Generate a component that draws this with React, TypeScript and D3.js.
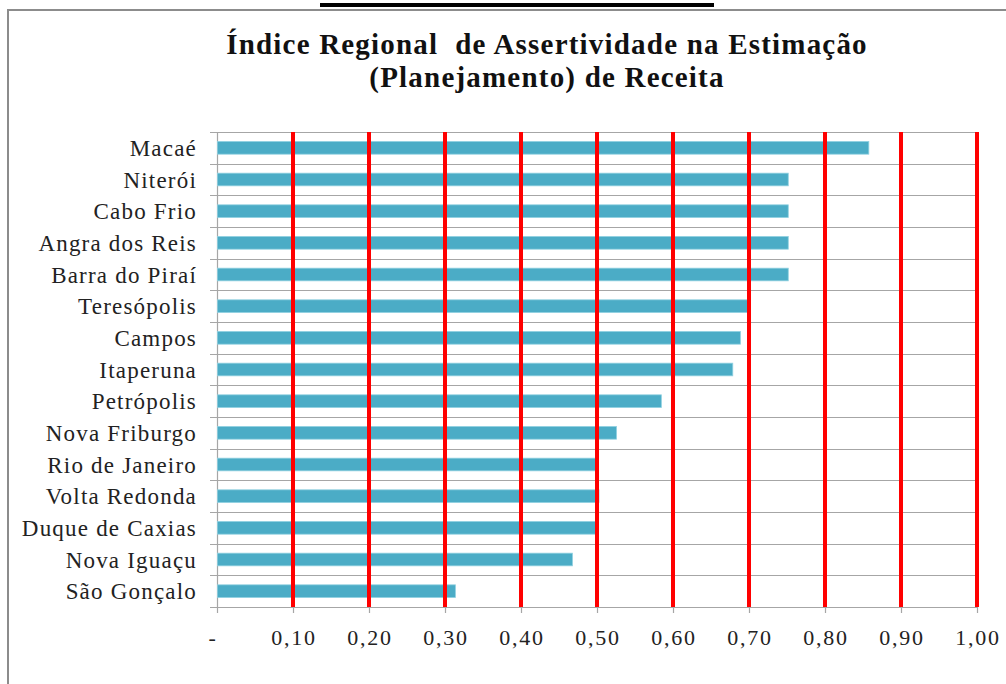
import React, { useEffect, useRef } from 'react';
import * as d3 from 'd3';

// dados
const cidades = [
  'Macaé', 'Niterói', 'Cabo Frio', 'Angra dos Reis', 'Barra do Piraí',
  'Teresópolis', 'Campos', 'Itaperuna', 'Petrópolis', 'Nova Friburgo',
  'Rio de Janeiro', 'Volta Redonda', 'Duque de Caxias', 'Nova Iguaçu', 'São Gonçalo',
];
const indices = [
  0.857, 0.751, 0.751, 0.751, 0.751,
  0.70, 0.688, 0.678, 0.584, 0.525,
  0.501, 0.502, 0.501, 0.467, 0.313,
];
const ticksX = [0, 0.1, 0.2, 0.3, 0.4, 0.5, 0.6, 0.7, 0.8, 0.9, 1.0];
const tituloLinhas = ['Índice Regional  de Assertividade na Estimação', '(Planejamento) de Receita'];

const W = 1006, H = 684;
const FONT = '"Liberation Serif", "Times New Roman", serif';

export default function App() {
  const ref = useRef<SVGSVGElement>(null);

  useEffect(() => {
    const svg = d3.select(ref.current);
    svg.selectAll('*').remove();

    const margin = { top: 132, right: 29, bottom: 77, left: 217 };
    const width = W - margin.left - margin.right;
    const height = H - margin.top - margin.bottom;

    // fundo e borda do gráfico
    svg.append('rect').attr('width', W).attr('height', H).attr('fill', '#fff');
    svg.append('rect')
      .attr('x', 8).attr('y', 10).attr('width', W + 20).attr('height', H + 20)
      .attr('fill', 'none').attr('stroke', '#8c8c8c').attr('stroke-width', 2);
    // pedaço do texto sublinhado cortado no topo
    svg.append('rect').attr('x', 320).attr('y', 3).attr('width', 394).attr('height', 4).attr('fill', '#000');

    // título
    const titulo = svg.append('text')
      .attr('text-anchor', 'middle')
      .style('font-family', FONT)
      .style('font-weight', 'bold')
      .style('font-size', '29px')
      .style('letter-spacing', '1.2px')
      .style('white-space', 'pre')
      .attr('fill', '#111');
    tituloLinhas.forEach((t, i) => {
      titulo.append('tspan').attr('x', 547).attr('y', 54 + i * 33).text(t);
    });

    const g = svg.append('g').attr('transform', `translate(${margin.left},${margin.top})`);

    const x = d3.scaleLinear().domain([0, 1]).range([0, width]);
    const y = d3.scaleBand().domain(cidades).range([0, height]).paddingInner(0.6).paddingOuter(0.3);
    const yb = d3.scaleLinear().domain([0, cidades.length]).range([0, height]);

    // linhas horizontais cinza (limites das categorias)
    g.append('g').selectAll('line')
      .data(d3.range(cidades.length + 1))
      .enter().append('line')
      .attr('x1', -7).attr('x2', width)
      .attr('y1', d => Math.round(yb(d)) + 0.5).attr('y2', d => Math.round(yb(d)) + 0.5)
      .attr('stroke', '#a6a6a6').attr('stroke-width', 1.2);

    // eixo vertical
    g.append('line')
      .attr('x1', 0.5).attr('x2', 0.5).attr('y1', 0).attr('y2', height)
      .attr('stroke', '#a6a6a6').attr('stroke-width', 1.2);

    // barras
    g.append('g').selectAll('rect')
      .data(indices)
      .enter().append('rect')
      .attr('x', 0.5)
      .attr('y', (d, i) => y(cidades[i])!)
      .attr('width', d => x(d))
      .attr('height', y.bandwidth())
      .attr('fill', '#4bacc6')
      .attr('stroke', '#8fd0e0').attr('stroke-width', 0.8);

    // linhas de grade vermelhas
    g.append('g').selectAll('line')
      .data(ticksX.slice(1))
      .enter().append('line')
      .attr('x1', d => x(d)).attr('x2', d => x(d))
      .attr('y1', 0).attr('y2', height)
      .attr('stroke', '#ff0000').attr('stroke-width', 4);

    // eixo X
    const eixoX = g.append('g').attr('transform', `translate(0,${height})`);
    eixoX.selectAll('line.tick')
      .data(ticksX)
      .enter().append('line')
      .attr('x1', d => x(d) + 0.5).attr('x2', d => x(d) + 0.5)
      .attr('y1', 0).attr('y2', 6)
      .attr('stroke', '#a6a6a6').attr('stroke-width', 1.2);
    eixoX.selectAll('text')
      .data(ticksX)
      .enter().append('text')
      .attr('x', d => (d === 0 ? x(d) - 4 : x(d) + 1))
      .attr('y', 38)
      .attr('text-anchor', 'middle')
      .style('font-family', FONT)
      .style('font-size', '22px')
      .style('letter-spacing', '1.8px')
      .attr('fill', '#222')
      .text(d => (d === 0 ? '-' : d3.format('.2f')(d).replace('.', ',')));

    // rótulos das cidades
    g.append('g').selectAll('text')
      .data(cidades)
      .enter().append('text')
      .attr('x', -20)
      .attr('y', d => y(d)! + y.bandwidth() / 2)
      .attr('dy', '0.35em')
      .attr('text-anchor', 'end')
      .style('font-family', FONT)
      .style('font-size', '23px')
      .style('letter-spacing', '1.2px')
      .attr('fill', '#222')
      .text(d => d);
  }, []);

  return (
    <svg ref={ref} width={W} height={H} style={{ position: 'absolute', left: 0, top: 0 }} />
  );
}
